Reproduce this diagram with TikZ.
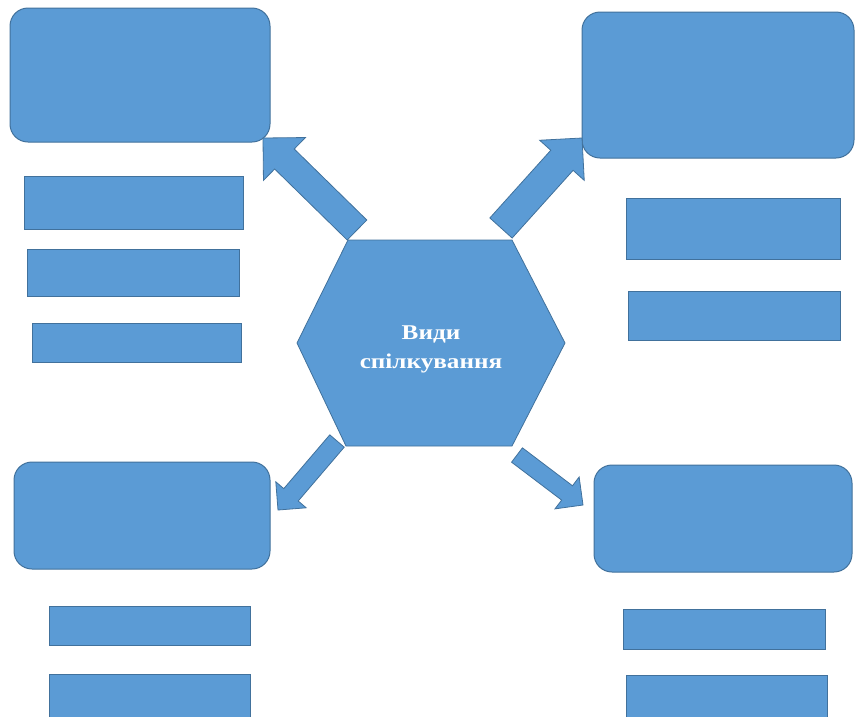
\documentclass[tikz,border=0pt]{standalone}
\usepackage{fontspec}
\setmainfont{Liberation Serif}
\usetikzlibrary{calc}
\usetikzlibrary{positioning}

\definecolor{boxfill}{HTML}{5B9BD5}
\definecolor{boxline}{HTML}{41719C}

\tikzset{
  bigbox/.style={draw=boxline, fill=boxfill, line width=1pt, rounded corners=18pt, inner sep=0pt},
  bar/.style={draw=boxline, fill=boxfill, line width=0.8pt, inner sep=0pt},
  blockarrow/.style={draw=boxline, fill=boxfill, line width=0.8pt, line join=miter},
  hexagon/.style={draw=boxline, fill=boxfill, line width=0.8pt},
  title/.style={text=white, align=center, font=\bfseries\fontsize{21}{29}\selectfont}
}
\newcommand{\wide}[1]{\scalebox{1.2}[1]{#1}}

\begin{document}
\begin{tikzpicture}[x=1pt, y=-1pt]
  \useasboundingbox (0,0) rectangle (859,716);

  % corner boxes
  \node[bigbox, minimum width=260pt, minimum height=134pt] (nw) at (140,75) {};
  \node[bigbox, minimum width=272pt, minimum height=146pt] (ne) at (718,85) {};
  \node[bigbox, minimum width=256pt, minimum height=107pt] (sw) at (142,515.5) {};
  \node[bigbox, minimum width=258pt, minimum height=107pt] (se) at (723,518.5) {};

  % bars under the boxes
  \node[bar, minimum width=219pt, minimum height=53pt] (nw1) at (133.5,202.5) {};
  \node[bar, minimum width=212pt, minimum height=47pt] (nw2) at (133,272.5) {};
  \node[bar, minimum width=209pt, minimum height=39pt] (nw3) at (136.5,342.5) {};
  \node[bar, minimum width=214pt, minimum height=61pt] (ne1) at (733,228.5) {};
  \node[bar, minimum width=212pt, minimum height=49pt] (ne2) at (734,315.5) {};
  \node[bar, minimum width=201pt, minimum height=39pt] (sw1) at (149.5,625.5) {};
  \node[bar, minimum width=201pt, minimum height=48pt] (sw2) at (149.5,698) {};
  \node[bar, minimum width=202pt, minimum height=40pt] (se1) at (724,629) {};
  \node[bar, minimum width=201pt, minimum height=48pt] (se2) at (726.5,699) {};

  % block arrows: tail t, tip h
  \coordinate (tNW) at (357,230);  \coordinate (hNW) at (263,138);
  \coordinate (tNE) at (501,228);  \coordinate (hNE) at (582,138);
  \coordinate (tSW) at (337,441);  \coordinate (hSW) at (278,510);
  \coordinate (tSE) at (517,455);  \coordinate (hSE) at (583,505);

  \foreach \dir/\s/\w/\l in {NW/14/30/30, NE/15/30/30, SW/9.5/20/20, SE/9/20/20} {
    \coordinate (b\dir) at ($(h\dir)!\l pt!(t\dir)$);
    \draw[blockarrow] ($(t\dir)!\s pt!90:(h\dir)$) -- ($(b\dir)!\s pt!90:(h\dir)$)
      -- ($(b\dir)!\w pt!90:(h\dir)$) -- (h\dir) -- ($(b\dir)!\w pt!-90:(h\dir)$)
      -- ($(b\dir)!\s pt!-90:(h\dir)$) -- ($(t\dir)!\s pt!-90:(h\dir)$) -- cycle;
  }

  % centre
  \draw[hexagon] (297,343) -- (348,240) -- (512,240) -- (565,343) -- (512,446) -- (346,446) -- cycle;
  \node[title] (hex) at (431,349) {\wide{Види}\\\wide{спілкування}};

\end{tikzpicture}
\end{document}
